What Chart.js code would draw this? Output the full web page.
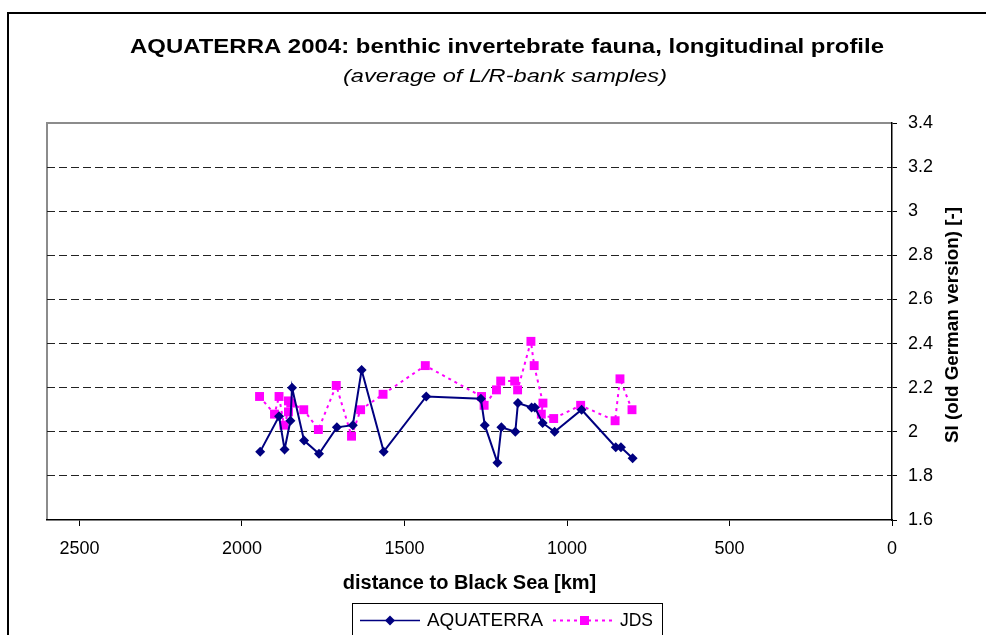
<!DOCTYPE html>
<html>
<head>
<meta charset="utf-8">
<title>AQUATERRA 2004</title>
<script src="https://cdn.jsdelivr.net/npm/chart.js@4.4.1/dist/chart.umd.min.js"></script>
<style>
  html, body { margin: 0; padding: 0; background: #fff; overflow: hidden; }
  canvas { display: block; }
</style>
</head>
<body>
<canvas id="myChart" width="986" height="635"></canvas>
<script>
// distance to Black Sea [km] and SI values
var aquaKm = [1944, 1886, 1869, 1851, 1846, 1809, 1763, 1708, 1659, 1632, 1564, 1433,
              1265, 1253, 1214, 1202, 1159, 1151, 1109, 1099, 1075, 1038, 955, 850, 834, 798];
var aquaSI = [1.91, 2.07, 1.92, 2.05, 2.20, 1.96, 1.90, 2.02, 2.03, 2.28, 1.91, 2.16,
              2.15, 2.03, 1.86, 2.02, 2.00, 2.13, 2.11, 2.11, 2.04, 2.00, 2.10, 1.93, 1.93, 1.88];

var jdsKm = [1946, 1900, 1886, 1871, 1857, 1857, 1850, 1810, 1765, 1710, 1663, 1635, 1566, 1436,
             1263, 1255, 1217, 1204, 1161, 1152, 1111, 1101, 1074, 1079, 1041, 958, 852, 837, 800];
var jdsSI = [2.16, 2.08, 2.16, 2.03, 2.09, 2.14, 2.13, 2.10, 2.01, 2.21, 1.98, 2.10, 2.17, 2.30,
             2.16, 2.12, 2.19, 2.23, 2.23, 2.19, 2.41, 2.30, 2.13, 2.08, 2.06, 2.12, 2.05, 2.24, 2.10];

var xTicks = [0, 500, 1000, 1500, 2000, 2500];
var yTicks = [1.6, 1.8, 2, 2.2, 2.4, 2.6, 2.8, 3, 3.2, 3.4];

var FONT = 'Arial, "Liberation Sans", sans-serif';

function pairs(xs, ys) {
    var out = [];
    for (let i = 0; i < xs.length; i++) out.push({x: xs[i], y: ys[i]});
    return out;
}

// draw centred text stretched to a given width (the original has wide spacing)
function fitText(c, text, cx, cy, font, width) {
    c.save();
    c.font = font;
    var w = c.measureText(text).width;
    c.translate(cx, cy);
    c.scale(width / w, 1);
    c.textAlign = 'center';
    c.textBaseline = 'middle';
    c.fillText(text, 0, 0);
    c.restore();
}

// frame, titles, plot border, right-axis title and legend
var decor = {
    id: 'decor',
    beforeDraw: function(chart) {
        var c = chart.ctx, a = chart.chartArea;
        c.save();
        c.fillStyle = '#fff';
        c.fillRect(0, 0, chart.width, chart.height);
        // outer frame
        c.strokeStyle = '#000';
        c.lineWidth = 2;
        c.beginPath();
        c.moveTo(986, 13);
        c.lineTo(8, 13);
        c.lineTo(8, 640);
        c.stroke();
        // plot area border (gray left/top)
        c.strokeStyle = '#8c8c8c';
        c.lineWidth = 2;
        c.beginPath();
        c.moveTo(a.left, a.bottom);
        c.lineTo(a.left, a.top);
        c.lineTo(a.right, a.top);
        c.stroke();
        c.restore();
    },
    afterDraw: function(chart) {
        var c = chart.ctx;
        c.save();
        c.fillStyle = '#000';
        fitText(c, 'AQUATERRA 2004: benthic invertebrate fauna, longitudinal profile',
                507, 47, 'bold 20px ' + FONT, 754);
        fitText(c, '(average of L/R-bank samples)', 505, 77, 'italic 19px ' + FONT, 324);

        // right axis title, reading upwards
        c.save();
        c.translate(953, 325);
        c.rotate(-Math.PI / 2);
        fitText(c, 'SI (old German version) [-]', 0, 0, 'bold 18px ' + FONT, 236);
        c.restore();

        // legend
        c.strokeStyle = '#000';
        c.lineWidth = 1;
        c.strokeRect(352.5, 603.5, 310, 40);
        var ly = 620.5;
        var ds0 = chart.data.datasets[0], ds1 = chart.data.datasets[1];
        c.strokeStyle = ds0.borderColor;
        c.lineWidth = 1.5;
        c.beginPath(); c.moveTo(360, ly); c.lineTo(420, ly); c.stroke();
        c.fillStyle = ds0.pointBackgroundColor;
        c.beginPath();
        c.moveTo(390, ly - 5); c.lineTo(395, ly); c.lineTo(390, ly + 5); c.lineTo(385, ly);
        c.closePath(); c.fill();
        c.strokeStyle = ds1.borderColor;
        c.lineWidth = 2;
        c.setLineDash([3, 4]);
        c.beginPath(); c.moveTo(553, ly); c.lineTo(613, ly); c.stroke();
        c.setLineDash([]);
        c.fillStyle = ds1.pointBackgroundColor;
        c.fillRect(580, ly - 4.5, 9, 9);
        c.fillStyle = '#000';
        fitText(c, 'AQUATERRA', 485, ly + 1, '18px ' + FONT, 116);
        fitText(c, 'JDS', 636.5, ly + 1, '18px ' + FONT, 33);
        c.restore();
    }
};

var ctx = document.getElementById('myChart').getContext('2d');
var myChart = new Chart(ctx, {
    type: 'scatter',
    data: {
        datasets: [{
            label: 'AQUATERRA',
            data: pairs(aquaKm, aquaSI),
            showLine: true,
            borderColor: '#000080',
            borderWidth: 2,
            pointStyle: 'rectRot',
            pointRadius: 5,
            pointBackgroundColor: '#000080',
            pointBorderColor: '#000080',
            pointBorderWidth: 0,
            tension: 0
        }, {
            label: 'JDS',
            data: pairs(jdsKm, jdsSI),
            showLine: true,
            borderColor: '#ff00ff',
            borderWidth: 2,
            borderDash: [3, 4],
            pointStyle: 'rect',
            pointRadius: 6.3,
            pointBackgroundColor: '#ff00ff',
            pointBorderColor: '#ff00ff',
            pointBorderWidth: 0,
            tension: 0
        }]
    },
    options: {
        responsive: false,
        animation: false,
        devicePixelRatio: 1,
        layout: { padding: { left: 47, top: 123, right: 0, bottom: 0 } },
        plugins: {
            legend: { display: false },
            title: { display: false },
            tooltip: { enabled: false }
        },
        scales: {
            x: {
                type: 'linear',
                position: 'bottom',
                reverse: true,
                min: 0,
                max: 2600,
                afterBuildTicks: function(s) { s.ticks = xTicks.map(v => ({value: v})); },
                afterFit: function(s) { s.height = 115; },
                ticks: {
                    color: '#000',
                    font: { family: FONT, size: 18 },
                    padding: 12,
                    maxRotation: 0,
                    callback: v => String(v)
                },
                grid: {
                    drawOnChartArea: false,
                    drawTicks: true,
                    tickLength: 6,
                    tickColor: '#000',
                    tickBorderDash: []
                },
                border: { display: true, color: '#000', width: 1.5 },
                title: {
                    display: true,
                    text: 'distance to Black Sea [km]',
                    color: '#000',
                    font: { family: FONT, size: 20, weight: 'bold' },
                    padding: { top: 0, bottom: 40 }
                }
            },
            y: {
                type: 'linear',
                position: 'right',
                min: 1.6,
                max: 3.4,
                afterBuildTicks: function(s) { s.ticks = yTicks.map(v => ({value: v})); },
                afterFit: function(s) { s.width = 94; },
                ticks: {
                    color: '#000',
                    font: { family: FONT, size: 18 },
                    padding: 11,
                    callback: v => String(+v.toFixed(1))
                },
                grid: {
                    drawOnChartArea: true,
                    drawTicks: true,
                    tickLength: 5,
                    color: function(c) {
                        var v = c.tick ? c.tick.value : null;
                        return (v === 1.6 || v === 3.4) ? 'rgba(0,0,0,0)' : '#222';
                    },
                    tickColor: '#000',
                    tickBorderDash: [],
                    lineWidth: 1
                },
                border: { display: true, color: '#000', width: 1.5, dash: [8, 4] }
            }
        }
    },
    plugins: [decor]
});
</script>
</body>
</html>
